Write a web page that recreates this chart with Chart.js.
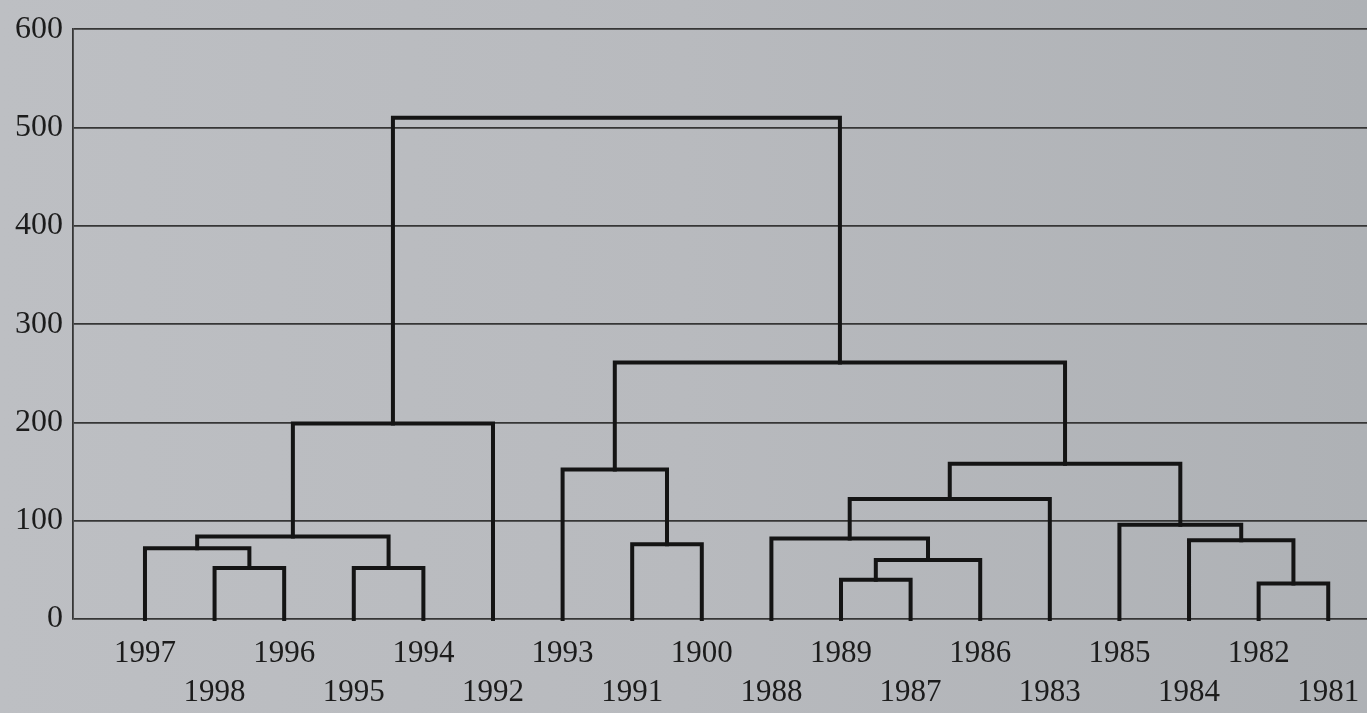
<!DOCTYPE html>
<html>
<head>
<meta charset="utf-8">
<script src="https://cdn.jsdelivr.net/npm/chart.js@4.4.1/dist/chart.umd.min.js"></script>
<style>
  html, body { margin: 0; padding: 0; }
  body { width: 1367px; height: 713px; overflow: hidden;
         background: linear-gradient(90deg, #bdbfc3 0%, #b8babe 50%, #aeb1b5 100%); }
  #wrap { position: relative; width: 1367px; height: 713px; }
</style>
</head>
<body>
<div id="wrap"><canvas id="c"></canvas></div>
<script>
// Leaves, in dendrogram order (left to right)
const leafLabels = ['1997','1998','1996','1995','1994','1992','1993','1991','1900',
                    '1988','1989','1987','1986','1983','1985','1984','1982','1981'];
// Merges: node ids 0..17 are leaves, merge k creates node 18+k
const mergeLeft   = [1, 0, 3, 19, 21, 7, 6, 10, 25, 9, 27, 16, 15, 14, 28, 24, 22];
const mergeRight  = [2, 18, 4, 20, 5, 8, 23, 11, 12, 26, 13, 17, 29, 30, 31, 32, 33];
const mergeHeight = [52, 72, 52, 84, 199, 76, 152, 40, 60, 82, 122, 36, 80, 96, 158, 261, 510];
// Axis ticks
const yTicks = [0, 100, 200, 300, 400, 500, 600];

const nodeX = leafLabels.map((_, i) => i);
const nodeH = leafLabels.map(() => 0);
const datasets = [];
mergeLeft.forEach((l, k) => {
  const r = mergeRight[k], h = mergeHeight[k];
  const xl = nodeX[l], xr = nodeX[r];
  datasets.push({
    data: [{x: xl, y: nodeH[l]}, {x: xl, y: h}, {x: xr, y: h}, {x: xr, y: nodeH[r]}],
    showLine: true, pointRadius: 0, borderColor: '#141414', borderWidth: 4,
    borderJoinStyle: 'miter', borderCapStyle: 'square', clip: false, fill: false
  });
  nodeX.push((xl + xr) / 2);
  nodeH.push(h);
});

const serif = '"Liberation Serif", "DejaVu Serif", serif';

new Chart(document.getElementById('c'), {
  type: 'scatter',
  data: { datasets },
  options: {
    responsive: true, maintainAspectRatio: false, animation: false,
    layout: { padding: { top: 22, right: 0, bottom: 0, left: 0 } },
    plugins: { legend: { display: false }, tooltip: { enabled: false } },
    scales: {
      x: {
        type: 'linear', min: -1.034, max: 17.557,
        grid: { display: false }, border: { display: false },
        afterBuildTicks: s => { s.ticks = leafLabels.map((_, i) => ({ value: i })); },
        afterFit: s => { s.height = 94; },
        ticks: {
          autoSkip: false, maxRotation: 0, minRotation: 0, padding: 7,
          color: '#1c1c1c', font: { family: serif, size: 31, lineHeight: '39px' },
          callback: (v) => { const i = Math.round(v); return i % 2 === 0 ? [leafLabels[i], ''] : ['', leafLabels[i]]; }
        }
      },
      y: {
        type: 'linear', min: yTicks[0], max: yTicks[yTicks.length - 1],
        afterBuildTicks: s => { s.ticks = yTicks.map(v => ({ value: v })); },
        afterFit: s => { s.width = 73; },
        grid: { color: '#363636', lineWidth: 1.8, drawTicks: false },
        border: { display: true, color: '#363636', width: 1.8 },
        ticks: { padding: 10, color: '#1c1c1c', font: { family: serif, size: 32 } }
      }
    }
  }
});
</script>
</body>
</html>
